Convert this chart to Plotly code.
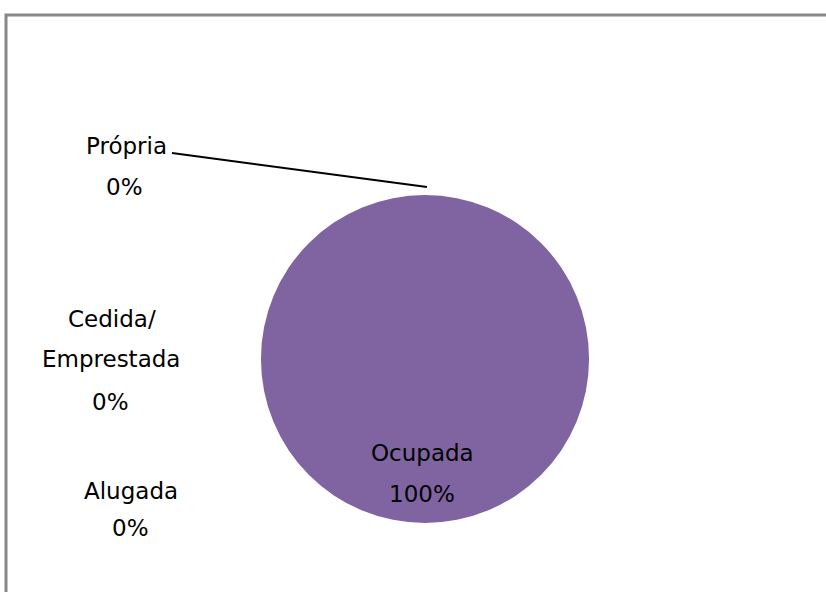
import plotly.graph_objects as go

# ---- data ----
labels = ["Própria", "Cedida/Emprestada", "Alugada", "Ocupada"]
values = [0, 0, 0, 100]
colors = ["#4F81BD", "#C0504D", "#9BBB59", "#8064A2"]

W, H = 826, 592
total = sum(values)
pcts = [f"{round(v / total * 100)}%" for v in values]


def px(x, y):
    return x / W, 1 - y / H


def split_label(s):
    if "/" in s:
        a, b = s.split("/", 1)
        return [a + "/", b]
    return [s]


fig = go.Figure(
    go.Pie(
        labels=labels,
        values=values,
        marker=dict(colors=colors, line=dict(width=0)),
        textinfo="none",
        sort=False,
        direction="clockwise",
        showlegend=False,
        domain=dict(x=[(425 - 164) / W, (425 + 164) / W],
                    y=[1 - (359 + 164) / H, 1 - (359 - 164) / H]),
    )
)

# label layout (pixel centres of each text line), kept separate from data
line_pos = {
    "Própria": [(126, 146), (124, 187)],
    "Cedida/Emprestada": [(112, 319), (111, 359), (110, 402)],
    "Alugada": [(131, 491), (130, 528)],
    "Ocupada": [(422, 453), (422, 494)],
}

font = dict(family="DejaVu Sans", size=23, color="#000000")
annotations = []
for lab, pct in zip(labels, pcts):
    lines = split_label(lab) + [pct]
    for txt, (x, y) in zip(lines, line_pos[lab]):
        ax, ay = px(x, y)
        annotations.append(dict(
            x=ax, y=ay, xref="paper", yref="paper", text=txt,
            showarrow=False, xanchor="center", yanchor="middle", font=font,
        ))

shapes = [
    # chart frame (top & left visible)
    dict(type="rect", xref="paper", yref="paper",
         x0=6 / W, x1=1.02, y0=-0.02, y1=1 - 15 / H,
         line=dict(color="#888888", width=3), fillcolor="rgba(0,0,0,0)"),
    # leader line for Própria
    dict(type="line", xref="paper", yref="paper",
         x0=172 / W, y0=1 - 153 / H, x1=427 / W, y1=1 - 187 / H,
         line=dict(color="#000000", width=2)),
]

fig.update_layout(
    width=W, height=H,
    margin=dict(l=0, r=0, t=0, b=0),
    paper_bgcolor="white", plot_bgcolor="white",
    annotations=annotations,
    shapes=shapes,
)

fig.write_html(
    "out.html",
    config={"displayModeBar": False},
    post_script="document.body.style.margin='0';document.body.style.overflow='hidden';",
)
